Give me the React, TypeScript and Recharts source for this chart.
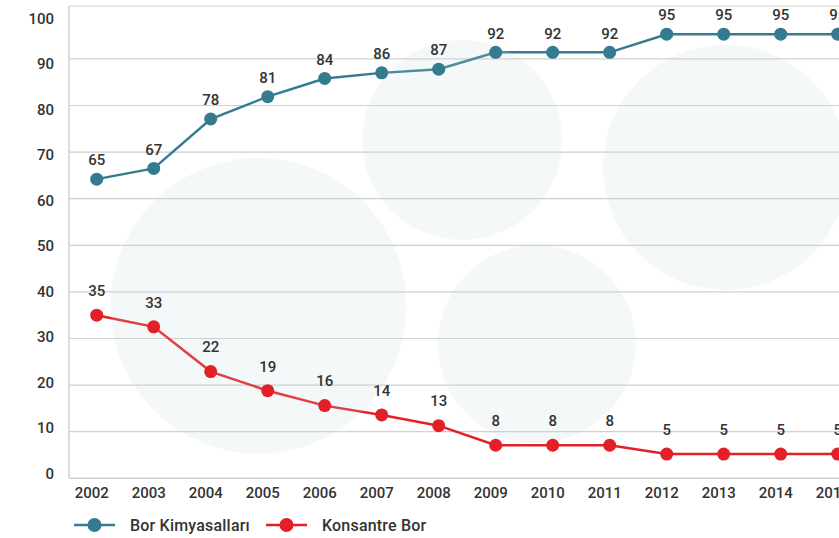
import React from 'react';
import { LineChart, Line, XAxis, YAxis, CartesianGrid, Legend, LabelList, ReferenceDot } from 'recharts';

const years = [2002, 2003, 2004, 2005, 2006, 2007, 2008, 2009, 2010, 2011, 2012, 2013, 2014, 2015];
// plotted positions
const borKimyasallari = [64.2, 66.5, 77.1, 81.9, 85.8, 87.0, 87.8, 91.4, 91.4, 91.4, 95.3, 95.3, 95.3, 95.3];
const konsantreBor = [35.0, 32.5, 22.9, 18.8, 15.6, 13.6, 11.3, 7.1, 7.1, 7.1, 5.2, 5.2, 5.2, 5.2];
// printed value labels
const borKimyasallariLabels = ['65', '67', '78', '81', '84', '86', '87', '92', '92', '92', '95', '95', '95', '95'];
const konsantreBorLabels = ['35', '33', '22', '19', '16', '14', '13', '8', '8', '8', '5', '5', '5', '5'];
const yTicks = [0, 10, 20, 30, 40, 50, 60, 70, 80, 90, 100];

const BLUE = '#357b90';
const RED = '#e41f27';
const FONT = 'Roboto, sans-serif';
const TEXT = '#333333';
const GRID = '#d0d0d0';
const Y_MAX = 101.35;

// decorative background circles (year, value, radius px)
const bubbles = [
  { x: 2004.84, y: 37.0, r: 148 },
  { x: 2008.41, y: 72.6, r: 100 },
  { x: 2009.72, y: 28.8, r: 99 },
  { x: 2013.03, y: 66.7, r: 122.5 },
];

const data = years.map((year, i) => ({
  year,
  blue: borKimyasallari[i],
  red: konsantreBor[i],
  blueLabel: borKimyasallariLabels[i],
  redLabel: konsantreBorLabels[i],
}));

const YTick = ({ x, y, payload }: any) => {
  const v = Number(payload.value);
  // labels sit on a slightly tighter spacing than the grid
  const dy = -5 + 0.11 * v + 5.3;
  return (
    <text x={x} y={y + dy} textAnchor="end" fill={TEXT} fontSize={15} fontWeight={500} fontFamily={FONT}>
      {payload.value}
    </text>
  );
};

const LegendItem = ({ color, label }: { color: string; label: string }) => (
  <div style={{ display: 'flex', alignItems: 'center', marginRight: 16 }}>
    <svg width={41} height={16} style={{ display: 'block' }}>
      <line x1={0} y1={8} x2={41} y2={8} stroke={color} strokeWidth={2.5} />
      <circle cx={20.5} cy={8} r={7} fill={color} />
    </svg>
    <span style={{ marginLeft: 15, fontFamily: FONT, fontSize: 16, fontWeight: 500, color: TEXT, letterSpacing: 0.2 }}>
      {label}
    </span>
  </div>
);

const renderLegend = () => (
  <div
    style={{
      height: 33.7,
      boxSizing: 'border-box',
      paddingTop: 8,
      paddingLeft: 74,
      display: 'flex',
      alignItems: 'center',
    }}
  >
    <LegendItem color={BLUE} label="Bor Kimyasalları" />
    <LegendItem color={RED} label="Konsantre Bor" />
  </div>
);

export default function App() {
  return (
    <div style={{ position: 'absolute', left: 0, top: 0, width: 839, height: 538, overflow: 'hidden', background: '#fff' }}>
      <LineChart width={880} height={538} data={data} margin={{ top: 6, right: 14.5, bottom: 0, left: 0 }}>
        {bubbles.map((b, i) => (
          <ReferenceDot
            key={i}
            x={b.x}
            y={b.y}
            r={b.r}
            fill="#c8d8d8"
            fillOpacity={0.18}
            stroke="none"
            ifOverflow="visible"
          />
        ))}
        <CartesianGrid
          vertical={false}
          stroke={GRID}
          strokeWidth={1.2}
          horizontalValues={[10, 20, 30, 40, 50, 60, 70, 80, 90, Y_MAX]}
        />
        <XAxis
          dataKey="year"
          type="number"
          domain={[2001.514, 2015.488]}
          ticks={years}
          allowDataOverflow
          height={26}
          tickLine={false}
          tickSize={0}
          tickMargin={9}
          axisLine={{ stroke: GRID, strokeWidth: 1.5 }}
          tick={{ fill: TEXT, fontSize: 15, fontWeight: 500, fontFamily: FONT, dx: -5 }}
        />
        <YAxis
          domain={[0, Y_MAX]}
          ticks={yTicks}
          allowDataOverflow
          width={69}
          tickLine={false}
          tickSize={0}
          tickMargin={15}
          axisLine={{ stroke: GRID, strokeWidth: 1.5 }}
          tick={<YTick />}
        />
        <Legend verticalAlign="bottom" align="left" height={33.7} content={renderLegend} />
        <Line
          dataKey="blue"
          name="Bor Kimyasalları"
          stroke={BLUE}
          strokeWidth={2.5}
          dot={{ r: 6.5, fill: BLUE, stroke: BLUE, strokeWidth: 0 }}
          isAnimationActive={false}
        >
          <LabelList dataKey="blueLabel" position="top" offset={13.7} fill={TEXT} fontSize={15} fontWeight={500} fontFamily={FONT} />
        </Line>
        <Line
          dataKey="red"
          name="Konsantre Bor"
          stroke={RED}
          strokeWidth={2.5}
          dot={{ r: 6.5, fill: RED, stroke: RED, strokeWidth: 0 }}
          isAnimationActive={false}
        >
          <LabelList dataKey="redLabel" position="top" offset={19.2} fill={TEXT} fontSize={15} fontWeight={500} fontFamily={FONT} />
        </Line>
      </LineChart>
    </div>
  );
}
